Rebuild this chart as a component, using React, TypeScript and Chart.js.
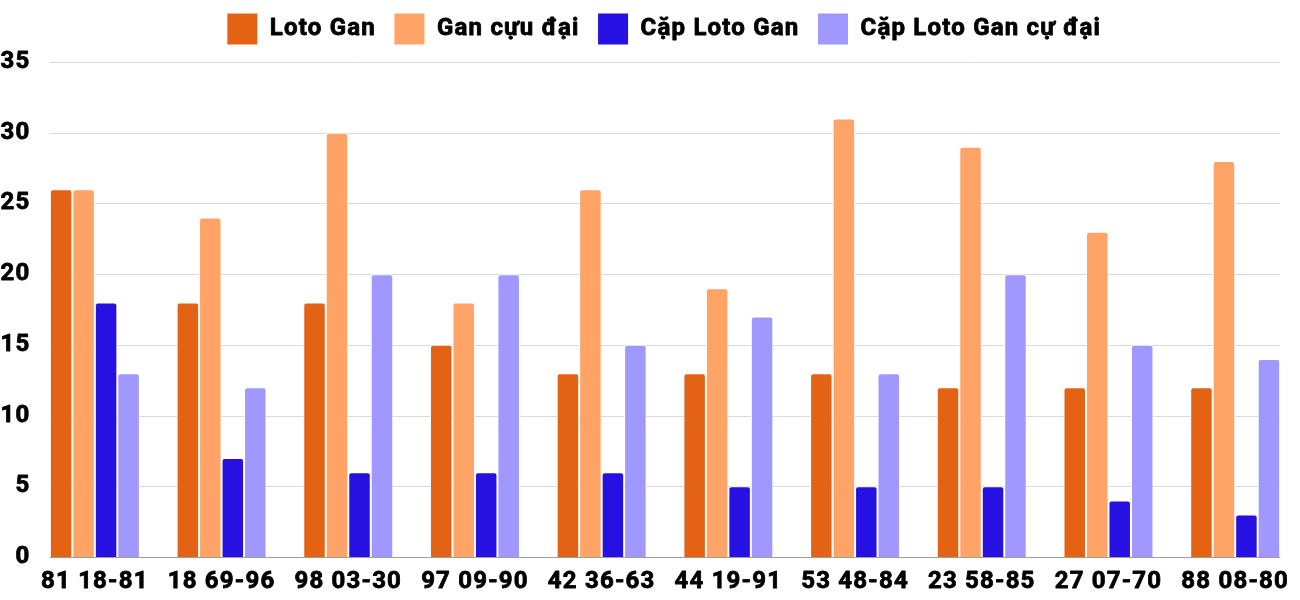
import React, { useEffect, useRef } from 'react';
import { Chart, registerables } from 'chart.js';

Chart.register(...registerables);

const categories = ['81 18-81', '18 69-96', '98 03-30', '97 09-90', '42 36-63', '44 19-91', '53 48-84', '23 58-85', '27 07-70', '88 08-80'];
const lotoGan = [26, 18, 18, 15, 13, 13, 13, 12, 12, 12];
const ganCucDai = [26, 24, 30, 18, 26, 19, 31, 29, 23, 28];
const capLotoGan = [18, 7, 6, 6, 6, 5, 5, 5, 4, 3];
const capCucDai = [13, 12, 20, 20, 15, 17, 13, 20, 15, 14];
const yTicks = [0, 5, 10, 15, 20, 25, 30, 35];

const FONT = 'Roboto';
const LETTER_SPACING = '1.2px';

function setupCtx(ctx: any) {
  ctx.letterSpacing = LETTER_SPACING;
  if (!ctx.__heavy) {
    const orig = ctx.fillText.bind(ctx);
    ctx.fillText = function (t: string, x: number, y: number, mw?: number) {
      if (mw === undefined) orig(t, x, y);
      else orig(t, x, y, mw);
      ctx.save();
      ctx.strokeStyle = ctx.fillStyle;
      ctx.lineWidth = 0.8;
      ctx.lineJoin = 'round';
      if (mw === undefined) ctx.strokeText(t, x, y);
      else ctx.strokeText(t, x, y, mw);
      ctx.restore();
    };
    ctx.__heavy = true;
  }
}

export default function App() {
  const ref = useRef<HTMLCanvasElement>(null);

  useEffect(() => {
    document.body.style.margin = '0';
    if (!ref.current) return;

    const gridPlugin = {
      id: 'customGrid',
      beforeInit(chart: any) {
        setupCtx(chart.ctx);
      },
      afterInit(chart: any) {
        const lg = chart.legend;
        if (lg && !lg.__patched) {
          const orig = lg.fit.bind(lg);
          lg.fit = function () {
            orig();
            this.height += 2;
          };
          const origDraw = lg.draw.bind(lg);
          lg.draw = function () {
            const ctx = chart.ctx;
            ctx.save();
            ctx.translate(14, -5);
            origDraw();
            ctx.restore();
          };
          lg.__patched = true;
        }
      },
      beforeLayout(chart: any) {
        setupCtx(chart.ctx);
      },
      beforeDraw(chart: any) {
        setupCtx(chart.ctx);
      },
      beforeDatasetsDraw(chart: any) {
        const { ctx, scales } = chart;
        const y = scales.y;
        const m0 = chart.getDatasetMeta(0).data[0] as any;
        const m3 = chart.getDatasetMeta(3).data[categories.length - 1] as any;
        if (!m0 || !m3) return;
        const left = m0.x - m0.width / 2;
        const right = m3.x + m3.width / 2;
        ctx.save();
        yTicks.forEach((v) => {
          const py = Math.round(y.getPixelForValue(v)) + 0.5;
          ctx.beginPath();
          ctx.strokeStyle = v === 0 ? '#9e9e9e' : '#dadada';
          ctx.lineWidth = 1;
          ctx.moveTo(left, py);
          ctx.lineTo(right, py);
          ctx.stroke();
        });
        ctx.restore();
      },
    };

    const mk = (label: string, data: number[], color: string) => ({
      label,
      data,
      backgroundColor: color,
      borderColor: '#ffffff',
      borderWidth: 1,
      borderRadius: { topLeft: 3, topRight: 3, bottomLeft: 0, bottomRight: 0 },
      borderSkipped: 'start' as const,
      barPercentage: 1,
      categoryPercentage: 0.71,
    });

    const chart = new Chart(ref.current, {
      type: 'bar',
      data: {
        labels: categories,
        datasets: [
          mk('Loto Gan', lotoGan, 'rgb(227,98,20)'),
          mk('Gan cựu đại', ganCucDai, 'rgb(255,163,102)'),
          mk('Cặp Loto Gan', capLotoGan, 'rgb(38,16,226)'),
          mk('Cặp Loto Gan cự đại', capCucDai, 'rgb(161,152,255)'),
        ],
      },
      options: {
        animation: false,
        responsive: true,
        maintainAspectRatio: false,
        layout: { padding: { top: 0, right: 0, left: 0, bottom: 0 } },
        plugins: {
          legend: {
            position: 'top',
            labels: {
              boxWidth: 31,
              boxHeight: 32,
              padding: 18,
              color: '#000',
              font: { family: FONT, size: 24, weight: 'bold' },
            },
          },
          tooltip: { enabled: false },
        },
        scales: {
          x: {
            grid: { display: false, drawTicks: false },
            border: { display: false },
            ticks: {
              color: '#000',
              font: { family: FONT, size: 24, weight: 'bold' },
              padding: 11,
              maxRotation: 0,
              autoSkip: false,
            },
            afterFit(scale: any) {
              scale.height = 43;
            },
          },
          y: {
            min: 0,
            max: 35,
            grid: { display: false, drawTicks: false },
            border: { display: false },
            ticks: {
              stepSize: 5,
              color: '#000',
              font: { family: FONT, size: 24, weight: 'bold' },
              padding: 1,
            },
            afterFit(scale: any) {
              scale.width = 31.5;
            },
          },
        },
      },
      plugins: [gridPlugin],
    });

    return () => chart.destroy();
  }, []);

  return (
    <div style={{ position: 'relative', width: 1300, height: 600 }}>
      <canvas ref={ref} />
    </div>
  );
}
